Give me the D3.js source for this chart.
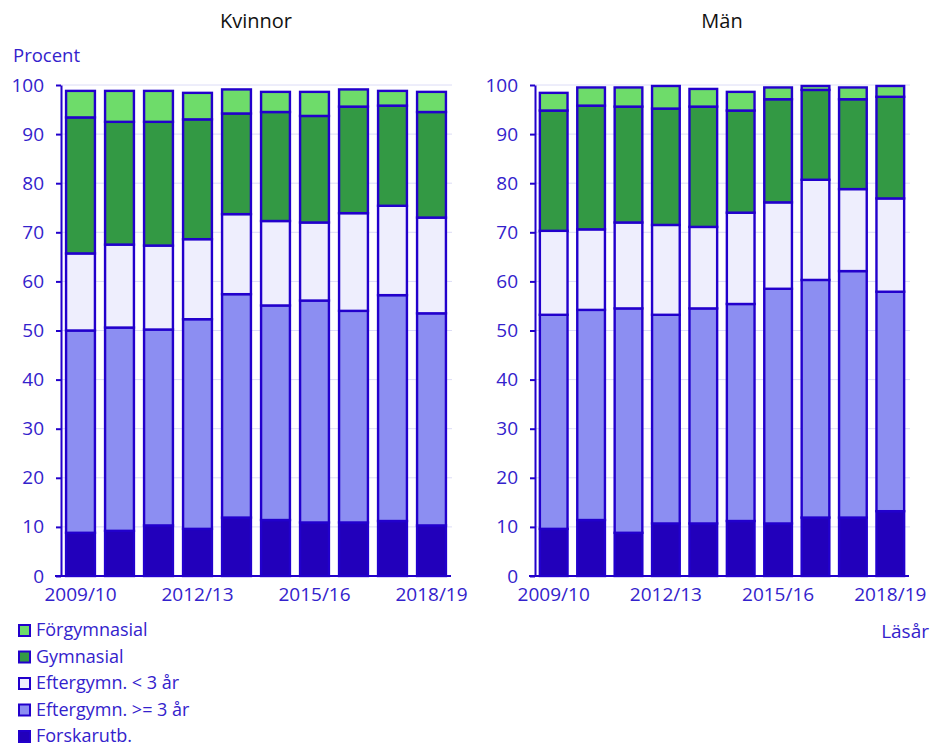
<!DOCTYPE html>
<html><head><meta charset="utf-8">
<script src="https://cdn.jsdelivr.net/npm/d3@7"></script>
<style>html,body{margin:0;padding:0;background:#fff;}</style>
</head><body>
<svg id="chart" width="931" height="748"></svg>
<script>
const years = ["2009/10","2010/11","2011/12","2012/13","2013/14","2014/15","2015/16","2016/17","2017/18","2018/19"];
const tickYears = ["2009/10","2012/13","2015/16","2018/19"];
const yTicks = [0,10,20,30,40,50,60,70,80,90,100];
const seriesNames = ["Förgymnasial","Gymnasial","Eftergymn. < 3 år","Eftergymn. >= 3 år","Forskarutb."];
const panelTitles = ["Kvinnor","Män"];

// Kvinnor
const kvForskarutb   = [8.8, 9.2, 10.3, 9.6, 11.9, 11.4, 10.9, 10.9, 11.2, 10.3];
const kvEfter3plus   = [41.2, 41.4, 39.9, 42.7, 45.5, 43.7, 45.2, 43.1, 46.0, 43.2];
const kvEfterUnder3  = [15.7, 16.9, 17.1, 16.3, 16.3, 17.2, 15.9, 19.9, 18.2, 19.5];
const kvGymnasial    = [27.7, 25.0, 25.2, 24.4, 20.5, 22.2, 21.7, 21.7, 20.4, 21.5];
const kvForgymnasial = [5.4, 6.3, 6.3, 5.4, 4.9, 4.1, 4.9, 3.5, 3.0, 4.1];
// Män
const maForskarutb   = [9.6, 11.4, 8.8, 10.7, 10.7, 11.2, 10.7, 11.9, 11.9, 13.2];
const maEfter3plus   = [43.6, 42.8, 45.7, 42.5, 43.8, 44.2, 47.8, 48.4, 50.2, 44.7];
const maEfterUnder3  = [17.1, 16.4, 17.5, 18.3, 16.6, 18.6, 17.6, 20.4, 16.7, 19.0];
const maGymnasial    = [24.5, 25.2, 23.6, 23.7, 24.5, 20.8, 21.0, 18.3, 18.3, 20.7];
const maForgymnasial = [3.6, 3.7, 3.9, 4.6, 3.6, 3.8, 2.4, 0.8, 2.4, 2.2];

const colors = {
  "Förgymnasial": "#6edc6a",
  "Gymnasial": "#339944",
  "Eftergymn. < 3 år": "#eeeefd",
  "Eftergymn. >= 3 år": "#8c8ef2",
  "Forskarutb.": "#2200bb"
};
const stroke = "#2200cc";
const textBlue = "#3322cc";
const font = "'Open Sans', sans-serif";

function buildRows(f, e3, eu, g, fg) {
  return years.map((y, i) => ({
    year: y,
    "Forskarutb.": f[i],
    "Eftergymn. >= 3 år": e3[i],
    "Eftergymn. < 3 år": eu[i],
    "Gymnasial": g[i],
    "Förgymnasial": fg[i]
  }));
}
const panels = [
  {title: panelTitles[0], rows: buildRows(kvForskarutb, kvEfter3plus, kvEfterUnder3, kvGymnasial, kvForgymnasial), x0: 61, x1: 451},
  {title: panelTitles[1], rows: buildRows(maForskarutb, maEfter3plus, maEfterUnder3, maGymnasial, maForgymnasial), x0: 535, x1: 909}
];

const svg = d3.select("#chart");
const y = d3.scaleLinear().domain([0, 100]).range([576, 85]);
const stackKeys = ["Forskarutb.","Eftergymn. >= 3 år","Eftergymn. < 3 år","Gymnasial","Förgymnasial"];
const stack = d3.stack().keys(stackKeys);

panels.forEach(p => {
  const g = svg.append("g");
  const x = d3.scaleBand().domain(years).range([p.x0, p.x1]).paddingInner(0.26).paddingOuter(0.13);

  // gridlines
  g.selectAll("line.grid").data(yTicks.filter(t => t > 0)).enter().append("line")
    .attr("x1", p.x0).attr("x2", p.x1 + 1)
    .attr("y1", d => y(d)).attr("y2", d => y(d))
    .attr("stroke", "#dcdcf6").attr("stroke-width", 1);

  // bars
  const layers = stack(p.rows);
  layers.forEach(layer => {
    g.selectAll(null).data(layer).enter().append("rect")
      .attr("x", d => x(d.data.year))
      .attr("width", x.bandwidth())
      .attr("y", d => y(d[1]))
      .attr("height", d => y(d[0]) - y(d[1]))
      .attr("fill", colors[layer.key])
      .attr("stroke", stroke)
      .attr("stroke-width", 2.4);
  });

  // y axis
  const yAxis = d3.axisLeft(y).tickValues(yTicks).tickSize(5).tickPadding(12).tickSizeOuter(0);
  const ya = g.append("g").attr("transform", `translate(${p.x0},0)`).call(yAxis);
  ya.select(".domain").attr("stroke", stroke).attr("stroke-width", 2);
  ya.selectAll(".tick line").attr("stroke", stroke).attr("stroke-width", 2);
  ya.selectAll(".tick text").attr("fill", textBlue).style("font-family", font).style("font-size", "19px");

  // x axis
  const xa = g.append("g").attr("transform", "translate(0,576)")
    .call(d3.axisBottom(x).tickValues(tickYears).tickSize(0).tickPadding(12).tickSizeOuter(0));
  xa.select(".domain").attr("stroke", stroke).attr("stroke-width", 2)
    .attr("d", `M${p.x0 - 6},0H${p.x1}`);
  xa.selectAll(".tick text").attr("fill", textBlue).style("font-family", font).style("font-size", "19px");

  // title
  svg.append("text").attr("x", (p.x0 + p.x1) / 2).attr("y", 28)
    .attr("text-anchor", "middle").attr("fill", "#111")
    .style("font-family", font).style("font-size", "20px").text(p.title);
});

svg.append("text").attr("x", 13).attr("y", 62).attr("fill", textBlue)
  .style("font-family", font).style("font-size", "18.5px").text("Procent");
svg.append("text").attr("x", 929).attr("y", 638).attr("text-anchor", "end").attr("fill", textBlue)
  .style("font-family", font).style("font-size", "19px").text("Läsår");

// legend
const lg = svg.append("g");
seriesNames.forEach((s, i) => {
  const by = 636 + i * 26.5;
  lg.append("rect").attr("x", 19).attr("y", by - 11).attr("width", 11).attr("height", 11)
    .attr("fill", colors[s]).attr("stroke", stroke).attr("stroke-width", 2);
  lg.append("text").attr("x", 36).attr("y", by).attr("fill", textBlue)
    .style("font-family", font).style("font-size", "18px").text(s);
});
</script>
</body></html>
